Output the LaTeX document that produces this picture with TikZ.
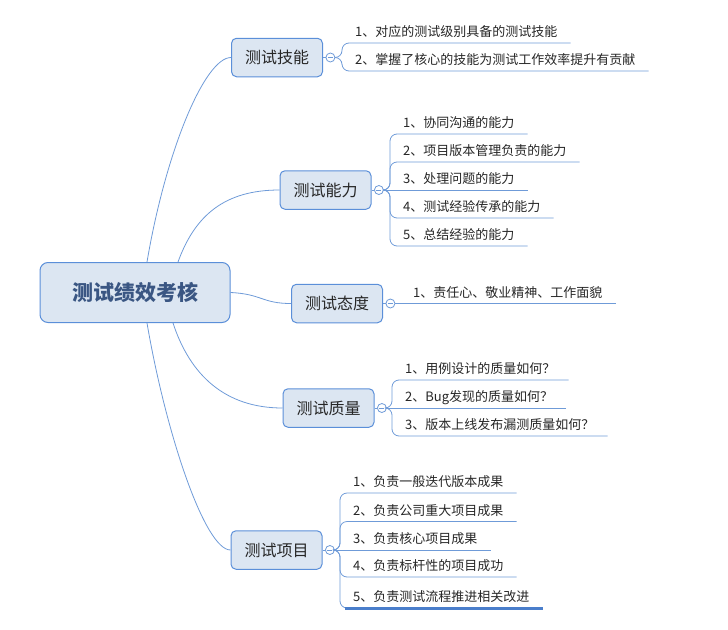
\documentclass[tikz,border=0pt]{standalone}
\usepackage{fontspec}
\setmainfont{Noto Sans CJK SC}
\usetikzlibrary{positioning}

\definecolor{boxfill}{HTML}{DCE6F2}
\definecolor{boxline}{HTML}{5B8FD9}
\definecolor{linkc}{HTML}{6F9BD8}
\definecolor{roottext}{HTML}{3A5683}
\definecolor{textc}{HTML}{262626}
\definecolor{selc}{HTML}{4A7ECB}

\tikzset{
  rootbox/.style={draw=boxline, fill=boxfill, line width=1pt, rounded corners=8pt,
    minimum width=190pt, minimum height=60pt, text=roottext,
    font=\fontsize{21}{21}\selectfont\bfseries},
  topic/.style={draw=boxline, fill=boxfill, line width=1pt, rounded corners=5pt,
    minimum width=91pt, minimum height=38.5pt, text=textc,
    font=\fontsize{16}{16}\selectfont},
  fold/.style={circle, draw=linkc, fill=white, line width=0.8pt, minimum size=9pt,
    inner sep=0pt, path picture={\draw[linkc, line width=0.7pt]
      ([xshift=-2.5pt]path picture bounding box.center) --
      ([xshift=2.5pt]path picture bounding box.center);}},
  leaf/.style={anchor=south west, inner xsep=13pt, inner ysep=3.5pt,
    text height=10.5pt, text depth=2.5pt, text=textc,
    font=\fontsize{13}{13}\selectfont},
  link/.style={draw=linkc, line width=0.8pt},
  bracket/.style={link, rounded corners=7pt},
}

\begin{document}
\begin{tikzpicture}[x=1pt, y=-1pt]
        \useasboundingbox (0,0) rectangle (728,629);

        \node[rootbox] (root) at (135,292.5) {测试绩效考核};

        \node[topic] (skill) at (277,57.5) {测试技能};
        \node[topic] (ability) at (325.5,190) {测试能力};
        \node[topic] (attitude) at (337,303.5) {测试态度};
        \node[topic] (quality) at (328.5,408) {测试质量};
        \node[topic] (project) at (276.5,550) {测试项目};

        \node[fold, right=2.5pt of skill] (skill-c) {};
        \node[fold, right=2.5pt of ability] (ability-c) {};
        \node[fold, right=2.5pt of attitude] (attitude-c) {};
        \node[fold, right=2.5pt of quality] (quality-c) {};
        \node[fold, right=2.5pt of project] (project-c) {};

        \draw[link] ([xshift=12pt]root.north) .. controls (166,150) and (205,57.5) .. (skill.west);
        \draw[link] ([xshift=43pt]root.north) .. controls (195,215) and (225,190) .. (ability.west);
        \draw[link] (root.east) .. controls (262,294) and (262,303.5) .. (attitude.west);
        \draw[link] ([xshift=38pt]root.south) .. controls (190,375) and (225,408) .. (quality.west);
        \draw[link] ([xshift=12pt]root.south) .. controls (166,434) and (205,550) .. (project.west);

        \foreach \t in {skill, ability, attitude, quality, project}
          \draw[link] (\t) -- (\t-c);

        % 测试技能
        \node[leaf] (s1) at (342,43) {1、对应的测试级别具备的测试技能};
        \node[leaf] (s2) at (342,71) {2、掌握了核心的技能为测试工作效率提升有贡献};
        \draw[bracket] (skill-c.east) -| (s1.south west) -- (s1.south east);
        \draw[bracket] (skill-c.east) -| (s2.south west) -- (s2.south east);

        % 测试能力
        \node[leaf] (a1) at (390,134) {1、协同沟通的能力};
        \node[leaf] (a2) at (390,162) {2、项目版本管理负责的能力};
        \node[leaf] (a3) at (390,190) {3、处理问题的能力};
        \node[leaf] (a4) at (390,218) {4、测试经验传承的能力};
        \node[leaf] (a5) at (390,246) {5、总结经验的能力};
        \draw[bracket] (ability-c.east) -| (a1.south west) -- (a1.south east);
        \draw[bracket] (ability-c.east) -| (a2.south west) -- (a2.south east);
        \draw[link] (ability-c.east) -- (a3.south east);
        \draw[bracket] (ability-c.east) -| (a4.south west) -- (a4.south east);
        \draw[bracket] (ability-c.east) -| (a5.south west) -- (a5.south east);

        % 测试态度
        \node[leaf] (t1) at (400,303.5) {1、责任心、敬业精神、工作面貌};
        \draw[link] (attitude-c.east) -- (t1.south east);

        % 测试质量
        \node[leaf] (q1) at (392,380) {1、用例设计的质量如何？};
        \node[leaf] (q2) at (392,408) {2、Bug发现的质量如何？};
        \node[leaf] (q3) at (392,436) {3、版本上线发布漏测质量如何？};
        \draw[bracket] (quality-c.east) -| (q1.south west) -- (q1.south east);
        \draw[link] (quality-c.east) -- (q2.south east);
        \draw[bracket] (quality-c.east) -| (q3.south west) -- (q3.south east);

        % 测试项目
        \node[leaf] (p1) at (340,493) {1、负责一般迭代版本成果};
        \node[leaf] (p2) at (340,521.5) {2、负责公司重大项目成果};
        \node[leaf] (p3) at (340,550) {3、负责核心项目成果};
        \node[leaf] (p4) at (340,577) {4、负责标杆性的项目成功};
        \node[leaf] (p5) at (340,608) {5、负责测试流程推进相关改进};
        \draw[bracket] (project-c.east) -| (p1.south west) -- (p1.south east);
        \draw[bracket] (project-c.east) -| (p2.south west) -- (p2.south east);
        \draw[link] (project-c.east) -- (p3.south east);
        \draw[bracket] (project-c.east) -| (p4.south west) -- (p4.south east);
        \draw[bracket] (project-c.east) -| (p5.south west) -- (p5.south east);
        \draw[draw=selc, line width=3pt] ([xshift=5pt]p5.south west) -- (p5.south east);
\end{tikzpicture}
\end{document}
